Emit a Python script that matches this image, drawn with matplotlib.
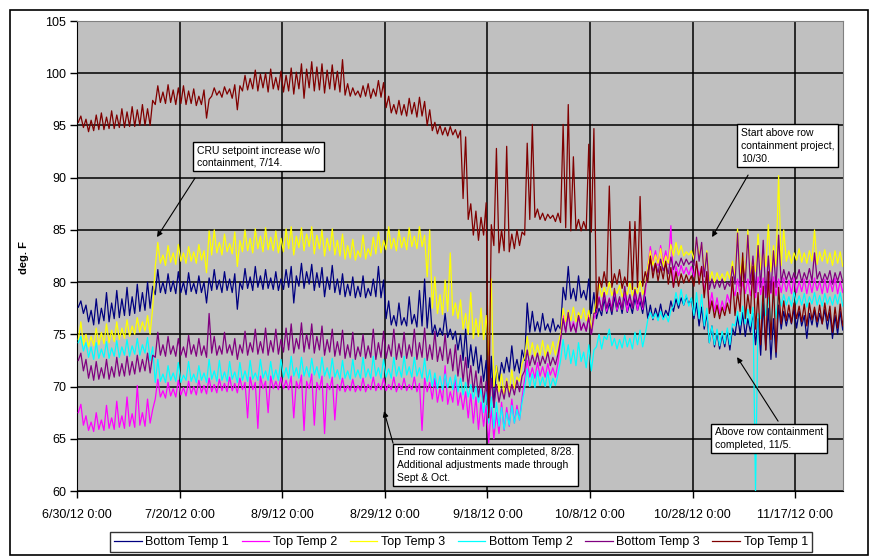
import numpy as np
import matplotlib
matplotlib.use("Agg")
import matplotlib.pyplot as plt

plt.rcParams['font.family'] = ['Liberation Sans', 'DejaVu Sans']

# ---------------- data (daily low / high readings, day 0 = 6/30/12) ----------------
tick_days = [0, 20, 40, 60, 80, 100, 120, 140]
tick_labels = ["6/30/12 0:00", "7/20/12 0:00", "8/9/12 0:00", "8/29/12 0:00",
               "9/18/12 0:00", "10/8/12 0:00", "10/28/12 0:00", "11/17/12 0:00"]
y_ticks = [60, 65, 70, 75, 80, 85, 90, 95, 100, 105]

bt1_lo = [77.6,77.0,76.2,75.9,76.0,76.3,76.2,76.5,76.6,76.8,76.8,77.0,77.2,77.3,77.5,78.8,79.0,78.9,79.1,78.9,
          79.0,78.8,79.1,78.9,79.0,78.0,79.2,79.3,79.0,79.2,79.0,77.4,79.3,79.4,79.2,79.5,79.3,79.4,79.3,79.2,
          79.3,79.5,78.0,79.6,79.4,79.8,79.2,79.5,78.6,79.3,79.0,78.8,78.6,78.7,78.5,78.6,78.5,78.7,78.6,78.5,
          76.5,75.9,75.8,75.9,75.8,76.0,75.7,75.8,75.6,75.0,74.8,74.9,74.7,74.5,73.5,72.5,71.8,72.0,71.3,70.5,
          67.5,68.0,70.5,71.3,71.4,71.5,71.3,72.5,75.2,75.3,75.2,75.4,75.2,75.3,75.5,78.3,78.4,78.2,78.5,78.3,
          77.0,76.5,76.8,77.0,76.9,77.2,77.0,77.1,77.0,77.3,77.0,76.5,76.4,76.6,76.5,76.8,77.2,77.5,77.8,77.9,
          76.5,75.8,75.5,74.2,73.8,73.6,73.8,73.5,74.9,75.0,74.8,75.2,74.0,73.0,73.5,72.6,72.8,75.5,75.8,76.0,
          75.6,75.8,74.6,75.9,75.7,76.0,75.5,74.6,75.0,75.4]
bt1_hi = [78.2,77.8,77.3,78.4,77.5,79.0,78.0,79.2,78.4,79.5,78.6,79.8,79.0,80.0,79.6,81.2,80.0,80.8,80.1,81.0,
          80.0,80.9,79.9,80.6,80.0,80.4,81.2,80.2,81.0,80.3,80.8,80.0,81.3,80.5,81.5,80.6,81.2,80.4,81.0,80.3,
          81.2,81.5,80.6,81.8,81.0,81.7,80.9,81.4,80.5,81.6,80.3,80.8,79.8,80.5,79.6,80.6,79.4,80.3,81.5,80.2,
          78.2,76.8,78.0,76.6,78.6,76.9,79.2,80.3,78.5,75.9,75.6,77.0,75.5,75.3,75.0,75.5,74.0,73.8,73.0,72.5,
          72.9,72.0,72.3,72.8,73.9,72.6,73.5,78.0,77.2,76.2,77.0,76.0,76.5,75.9,79.5,81.5,79.4,80.6,79.2,80.3,
          79.0,77.5,78.4,78.0,78.6,78.2,78.7,78.0,78.5,78.2,78.6,77.8,77.5,77.9,77.3,78.2,78.4,78.5,78.6,78.4,
          78.0,77.6,77.0,75.8,75.2,75.0,75.3,75.6,76.8,77.1,76.5,77.0,76.5,78.0,77.5,76.5,77.8,77.2,77.0,77.4,
          77.2,76.8,77.0,77.3,77.0,77.4,77.1,76.8,77.2,77.0]

tt2_lo = [67.5,66.3,65.8,65.7,65.9,65.8,66.0,65.9,66.1,66.0,66.2,66.1,66.3,66.2,66.5,68.8,69.0,68.9,69.1,69.0,
          69.2,69.1,69.3,69.2,69.4,69.3,69.5,69.4,69.6,69.5,69.6,69.4,69.7,67.0,69.7,66.0,69.8,67.5,69.8,69.7,
          69.8,69.7,67.0,69.8,65.8,69.8,66.3,69.7,65.5,69.7,66.8,69.6,69.5,69.6,69.5,69.6,69.5,69.7,69.6,69.7,
          69.6,69.7,69.5,69.7,69.6,69.7,69.5,65.8,69.5,68.8,68.5,68.6,68.3,68.5,68.2,67.8,67.0,66.5,65.9,66.2,
          64.6,65.0,65.5,65.8,66.2,66.5,66.8,70.7,70.9,70.8,71.0,70.9,71.1,70.9,74.5,75.2,75.3,75.2,75.4,75.3,
          75.0,77.1,77.3,77.2,77.5,77.3,77.4,77.2,77.5,77.3,77.4,81.5,81.8,81.6,81.9,81.7,79.5,80.6,80.8,80.7,
          80.5,80.6,79.0,77.5,77.2,77.0,77.3,78.0,78.7,78.8,78.9,78.7,78.5,78.8,78.6,78.9,78.7,79.0,79.1,78.9,
          79.0,79.1,78.9,79.0,79.2,78.9,79.0,79.1,78.9,79.0]
tt2_hi = [68.3,67.2,66.6,67.5,66.8,68.2,67.0,68.6,67.2,69.0,67.4,70.1,67.5,68.8,67.8,70.7,69.6,70.4,69.8,70.6,
          69.9,70.5,70.0,70.6,70.1,70.8,70.2,70.7,70.3,70.9,70.3,70.8,70.4,70.9,70.4,71.0,70.5,71.0,70.5,70.9,
          70.6,71.0,70.5,71.1,70.5,71.2,70.4,71.0,70.3,70.9,70.2,70.8,70.1,70.7,70.1,70.8,70.2,70.9,70.3,70.8,
          70.2,70.9,70.3,70.8,70.2,70.9,70.3,70.8,70.4,70.8,69.8,72.0,69.5,70.9,69.4,69.5,69.3,69.0,68.5,68.2,
          68.0,67.5,68.5,68.0,68.8,68.2,69.0,72.5,71.8,72.3,71.9,72.2,71.8,72.3,76.8,77.1,76.2,76.8,76.0,76.9,
          76.5,78.6,79.0,78.5,79.2,78.4,79.0,78.6,79.1,78.7,79.0,83.4,83.0,83.5,83.0,85.4,81.5,81.6,81.4,81.5,
          81.8,81.5,81.0,79.0,78.5,78.2,78.8,79.5,80.3,80.0,80.3,80.1,80.5,80.4,80.2,80.5,80.3,80.4,80.2,80.4,
          80.1,80.3,80.2,80.4,80.1,80.3,80.2,80.4,80.1,80.3]

tt3_lo = [74.5,74.0,73.8,73.9,74.0,74.1,74.2,74.3,74.5,74.6,74.8,75.0,75.2,75.3,75.0,81.5,81.8,81.6,81.9,81.7,
          82.0,81.8,82.0,81.8,82.1,80.9,82.6,82.8,82.6,82.9,82.7,81.5,82.9,83.0,82.8,83.2,82.9,83.1,83.0,82.8,
          82.9,83.2,82.6,83.3,83.0,83.4,82.7,83.2,82.5,83.0,82.6,82.5,82.2,82.3,82.1,82.4,82.2,82.5,82.7,82.8,
          83.1,83.2,83.0,83.3,83.1,83.4,83.2,83.4,80.5,77.5,77.0,76.9,77.2,76.8,76.5,75.5,75.0,74.6,74.8,74.5,
          73.0,70.0,69.5,69.2,69.4,69.8,70.5,72.8,73.0,72.9,73.0,72.9,73.1,73.0,75.0,76.2,76.3,76.2,76.5,76.3,
          75.5,78.5,78.6,78.8,78.7,78.9,78.6,78.8,78.7,78.9,78.8,81.5,81.6,81.8,81.5,81.8,82.5,82.6,82.5,82.6,
          82.2,82.5,81.0,80.1,80.0,80.2,80.1,80.3,80.5,80.6,80.5,80.8,81.0,81.2,81.5,81.0,81.5,81.6,82.0,81.8,
          82.1,81.9,81.8,82.0,81.7,82.0,81.8,81.6,81.8,81.5]
tt3_hi = [76.2,75.0,74.8,75.6,75.2,76.0,75.4,76.2,75.6,76.4,75.8,76.6,76.2,76.8,77.5,83.8,82.6,83.5,82.8,83.6,
          82.8,83.4,82.9,83.6,83.0,84.9,85.0,83.8,84.6,83.7,84.8,84.0,85.0,84.2,85.1,84.4,85.2,84.3,84.9,84.2,
          85.1,85.3,84.4,85.2,84.6,85.3,84.5,85.0,84.2,85.1,84.0,84.6,83.5,84.1,83.0,84.5,83.2,84.3,84.8,84.0,
          85.3,84.2,85.0,84.3,85.2,84.4,85.3,84.5,85.0,80.5,78.8,80.2,82.8,78.0,78.3,77.0,79.0,76.5,77.5,76.8,
          80.3,72.0,71.2,70.8,71.6,70.9,72.2,74.8,74.2,74.0,74.4,74.0,74.3,74.1,77.5,77.3,77.6,77.1,77.5,77.3,
          77.0,79.8,79.5,80.0,79.4,79.7,79.3,79.9,79.5,80.1,79.6,83.0,82.6,83.2,82.5,83.6,83.8,83.5,82.9,83.0,
          84.1,83.6,83.0,81.0,80.9,80.8,81.0,82.0,85.1,82.5,85.0,82.2,84.6,83.0,85.5,83.5,90.2,85.0,83.0,82.8,
          83.2,82.8,83.0,85.0,82.9,83.1,82.8,83.0,82.9,82.6]

bt2_lo = [74.2,73.4,72.8,72.6,72.7,72.8,72.7,72.9,72.8,73.0,72.9,73.1,73.0,73.2,72.5,70.4,70.5,70.4,70.6,70.5,
          70.4,70.6,70.5,70.4,70.6,70.4,70.7,70.5,70.6,70.5,70.7,70.4,70.6,70.5,70.7,70.6,70.8,70.6,70.7,70.6,
          70.9,70.8,71.0,70.8,71.0,70.9,71.1,70.8,71.0,70.8,70.9,70.7,70.8,70.7,70.9,70.8,70.9,70.8,71.0,70.8,
          70.9,70.8,71.0,70.9,71.1,70.9,71.0,70.8,70.5,70.0,69.8,69.7,69.9,69.7,69.5,69.2,69.0,68.8,68.5,67.5,
          66.5,66.0,66.2,65.9,66.3,66.5,66.8,69.8,70.0,69.9,70.1,70.0,69.9,70.1,72.5,72.6,72.2,72.0,72.4,71.8,
          71.5,73.8,73.6,74.5,73.9,73.6,73.7,73.8,73.6,74.0,73.8,76.4,76.5,76.3,76.4,76.2,77.7,77.8,77.8,77.7,
          76.8,76.5,75.8,74.2,74.0,73.9,74.1,74.0,75.8,75.9,76.0,75.8,60.0,76.5,76.8,76.0,76.5,77.7,77.8,77.7,
          77.9,77.8,77.6,77.9,77.8,77.7,77.9,77.8,77.9,77.7]
bt2_hi = [74.8,74.2,73.8,74.2,73.6,74.3,73.7,74.4,73.8,74.5,73.9,74.6,74.0,74.7,73.8,72.6,71.2,72.0,71.3,72.3,
          71.1,72.4,71.2,72.0,71.3,72.6,71.5,72.5,71.4,72.4,71.4,72.3,71.5,72.5,71.3,72.6,71.5,72.4,71.6,72.6,
          71.8,72.9,71.8,72.8,71.9,72.7,71.9,72.8,71.8,72.7,71.6,72.5,71.5,72.6,71.6,72.8,71.7,72.9,71.8,72.6,
          71.7,72.8,71.9,72.9,71.9,72.8,71.8,72.7,71.6,71.3,71.0,71.2,70.9,71.1,70.8,70.4,70.2,70.0,69.8,69.5,
          69.0,68.5,68.0,67.5,68.2,67.8,68.5,71.7,71.2,71.5,70.9,71.4,70.8,71.2,74.5,74.0,73.5,74.2,73.3,74.0,
          73.5,75.0,74.8,75.5,74.6,74.5,74.9,74.6,75.2,75.4,75.0,77.1,77.0,77.2,76.9,77.3,79.0,79.3,78.8,78.5,
          79.0,78.8,77.5,75.8,75.5,75.3,75.6,76.0,77.2,77.7,77.4,77.6,77.0,79.0,78.5,78.8,79.0,78.8,78.6,79.0,
          78.7,78.9,78.6,79.0,78.7,78.9,78.6,78.8,79.0,78.8]

bt3_lo = [72.5,71.5,70.8,70.6,70.7,70.8,70.7,70.9,71.0,71.0,71.1,71.2,71.4,71.5,71.3,72.8,73.0,72.9,73.1,72.9,
          73.0,72.8,73.1,72.9,73.0,72.8,73.2,73.0,73.1,73.2,73.0,72.6,73.2,73.0,73.3,73.1,73.2,73.0,73.3,73.1,
          73.3,73.5,73.2,73.6,73.3,73.6,73.2,73.5,73.0,73.3,72.9,73.0,72.7,72.8,72.6,72.9,72.7,72.8,72.6,72.8,
          72.7,72.9,72.6,72.8,72.7,72.9,72.6,72.8,72.5,72.6,72.4,72.5,72.2,71.5,71.0,70.5,70.0,69.5,69.0,68.5,
          67.5,68.0,68.5,68.8,69.0,69.2,69.5,71.5,72.0,72.1,72.0,72.2,72.0,72.1,74.5,75.2,75.3,75.2,75.4,75.3,
          75.0,77.1,77.3,77.5,77.2,77.6,77.4,77.8,77.5,77.9,77.6,80.9,81.0,80.9,81.1,80.8,81.2,81.5,81.6,81.7,
          81.6,82.0,80.5,79.3,79.4,79.5,79.3,79.6,79.8,79.6,80.0,79.8,79.0,79.5,78.5,79.0,79.5,80.0,80.2,80.1,
          80.3,80.0,80.2,80.1,80.3,80.0,80.2,79.8,80.1,80.0]
bt3_hi = [73.2,72.6,72.0,72.4,71.8,72.6,71.9,72.8,72.2,72.9,72.4,73.0,72.6,73.2,73.0,75.2,74.0,74.8,73.9,74.6,
          73.8,74.9,74.0,74.6,73.9,77.0,74.8,73.9,75.2,74.0,74.6,74.0,75.3,74.2,75.5,74.3,75.6,74.4,75.5,74.5,
          75.6,76.0,74.6,76.1,75.0,76.0,74.8,75.8,74.5,75.5,74.3,75.4,74.0,75.2,73.8,75.0,73.9,75.5,74.2,75.3,
          74.0,75.5,74.1,75.2,74.0,75.5,74.2,75.6,74.0,75.3,73.8,75.0,73.6,74.0,73.0,72.8,72.0,71.5,71.0,70.5,
          70.8,70.2,69.8,70.5,70.2,70.6,71.0,73.5,73.0,73.2,72.9,73.3,72.8,73.1,76.5,77.1,76.0,76.8,76.1,76.6,
          77.0,78.5,79.0,78.4,79.4,78.6,79.6,78.8,79.3,79.0,79.5,82.2,81.8,82.2,81.7,82.4,82.0,82.3,82.2,82.0,
          84.3,83.8,82.8,80.3,80.2,80.3,80.0,81.5,84.7,82.0,84.5,82.5,83.5,84.0,82.5,83.0,84.5,81.2,81.0,80.9,
          81.2,80.9,81.3,82.8,81.0,80.8,81.1,80.9,81.0,80.8]

tt1_lo = [95.3,94.8,94.4,94.5,94.6,94.6,94.7,94.7,94.8,94.8,94.9,94.9,95.0,95.0,95.0,97.0,97.2,97.1,97.2,97.0,
          97.1,97.0,97.1,96.9,97.0,95.7,97.8,97.9,97.7,98.0,97.6,96.5,98.3,98.4,98.5,98.3,98.6,98.2,98.5,98.4,
          98.2,98.3,98.0,98.5,97.6,98.6,98.3,98.4,98.1,98.5,98.4,98.2,97.9,97.8,97.9,97.7,97.8,97.6,97.8,97.7,
          96.7,96.2,96.1,96.0,95.9,96.1,95.8,95.9,95.0,94.5,94.2,94.1,94.0,94.1,93.8,88.0,86.0,84.5,84.0,84.5,
          67.0,83.5,82.8,83.0,82.9,83.2,83.5,84.5,86.0,86.2,86.0,85.9,86.1,85.8,85.7,85.2,84.9,85.0,84.9,85.0,
          84.8,77.5,79.5,79.6,79.5,79.8,79.4,79.6,79.3,79.5,79.6,80.0,80.4,80.1,80.3,79.8,79.5,79.6,79.9,80.0,
          79.6,79.8,78.5,77.0,76.6,76.5,76.8,77.0,76.8,77.2,76.5,77.0,75.5,74.0,73.5,74.5,73.3,76.0,76.3,76.1,
          76.5,76.2,75.8,76.4,76.2,76.0,76.3,75.2,75.6,75.8]
tt1_hi = [95.9,95.6,95.5,96.0,96.2,95.8,96.4,96.0,96.6,96.3,96.8,96.5,97.0,96.6,97.4,98.8,98.2,98.9,98.4,98.6,
          98.8,98.3,98.5,97.8,98.4,97.5,98.6,98.3,98.7,98.5,98.9,98.8,99.8,99.5,100.3,99.9,100.0,100.4,99.6,100.2,
          99.8,100.5,100.1,100.9,100.4,101.1,100.6,100.9,100.3,100.8,100.2,101.3,99.0,98.6,98.3,98.8,99.0,98.5,99.3,99.1,
          97.8,97.0,97.4,97.0,97.6,97.2,97.7,97.3,96.5,95.3,95.0,94.8,94.9,94.6,94.5,93.9,87.5,86.8,86.2,87.6,
          85.5,92.8,85.0,93.0,84.6,85.0,84.8,93.3,95.1,87.0,86.6,86.5,86.4,86.6,95.1,97.0,92.0,86.0,85.8,93.2,
          94.7,80.5,81.0,89.2,80.8,81.2,80.5,85.8,85.8,88.2,81.0,82.5,81.8,81.5,82.0,81.4,81.0,80.8,80.7,80.6,
          82.0,81.5,81.0,78.2,77.8,77.6,78.0,80.5,79.0,82.8,78.8,81.5,79.0,79.6,81.0,80.0,79.5,78.2,77.8,78.0,
          77.7,77.9,78.0,77.6,77.8,78.0,77.7,77.6,77.9,77.5]

series = [
    ("Bottom Temp 1", "#000080", bt1_lo, bt1_hi),
    ("Top Temp 2", "#FF00FF", tt2_lo, tt2_hi),
    ("Top Temp 3", "#FFFF00", tt3_lo, tt3_hi),
    ("Bottom Temp 2", "#00FFFF", bt2_lo, bt2_hi),
    ("Bottom Temp 3", "#800080", bt3_lo, bt3_hi),
    ("Top Temp 1", "#800000", tt1_lo, tt1_hi),
]

# ---------------- figure ----------------
W, H = 871, 557
fig = plt.figure(figsize=(W / 100, H / 100), dpi=100)
fig.patch.set_facecolor("white")

# outer chart border
fig.add_artist(plt.Rectangle((10 / W, 1 - 555 / H), (868 - 10) / W, (555 - 10) / H,
                             transform=fig.transFigure, fill=False, edgecolor="black", lw=1.2))

ax = fig.add_axes([77 / W, 1 - 491 / H, (843 - 77) / W, (491 - 21) / H])
ax.set_facecolor("#C0C0C0")

for name, color, lo, hi in series:
    n = len(lo)
    t = np.empty(2 * n)
    v = np.empty(2 * n)
    t[0::2] = np.arange(n) + 0.25
    t[1::2] = np.arange(n) + 0.75
    v[0::2] = lo
    v[1::2] = hi
    ax.plot(t, v, color=color, lw=0.9, label=name, zorder=3)

ax.set_xlim(0, 149.3)
ax.set_ylim(60, 105)
ax.set_xticks(tick_days)
ax.set_xticklabels(tick_labels)
ax.set_yticks(y_ticks)
ax.set_yticklabels([str(v) for v in y_ticks])
ax.grid(True, color="black", lw=1.1, zorder=1)
ax.set_axisbelow(True)
ax.tick_params(axis="both", direction="out", length=5, width=1, colors="black", labelsize=9)
ax.tick_params(axis="x", pad=8)
ax.tick_params(axis="y", pad=3)
for s in ["top", "right"]:
    ax.spines[s].set_color("#808080")
for s in ["left", "bottom"]:
    ax.spines[s].set_color("black")

fig.text(24 / W, 1 - 258 / H, "deg. F", rotation=90, ha="center", va="center",
         fontsize=8, fontweight="bold")

# annotations
box = dict(boxstyle="square,pad=0.35", facecolor="white", edgecolor="black", lw=1)
arrow = dict(arrowstyle="-|>", color="black", lw=0.8, mutation_scale=8, shrinkA=0, shrinkB=0)

def px2d(x, y):
    return (x - 77) / 5.13, 105 - (y - 21) / 10.44

notes = [
    ("CRU setpoint increase w/o\ncontainment, 7/14.", (197, 146), (195, 178), (157, 237), 1.2),
    ("End row containment completed, 8/28.\nAdditional adjustments made through\nSept & Oct.",
     (397, 447), (393, 443), (384, 411), 1.35),
    ("Start above row\ncontainment project,\n10/30.", (741, 128), (748, 175), (712, 237), 1.35),
    ("Above row containment\ncompleted, 11/5.", (715, 427), (778, 421), (737, 357), 1.3),
]
for text, tpos, apos, hpos, ls in notes:
    ax.text(*px2d(*tpos), text, ha="left", va="top", fontsize=7.5, linespacing=ls,
            bbox=box, zorder=6, clip_on=False)
    ax.annotate("", xy=px2d(*hpos), xytext=px2d(*apos), arrowprops=arrow, zorder=5,
                annotation_clip=False)

leg = fig.legend(loc="center", bbox_to_anchor=(461 / W, 1 - 542 / H), ncol=6, fontsize=9,
                 frameon=True, fancybox=False, edgecolor="black", handlelength=2.2,
                 handletextpad=0.3, columnspacing=1.0, borderpad=0.35)
leg.get_frame().set_linewidth(1.0)

fig.savefig("out.png", dpi=100, facecolor="white")
